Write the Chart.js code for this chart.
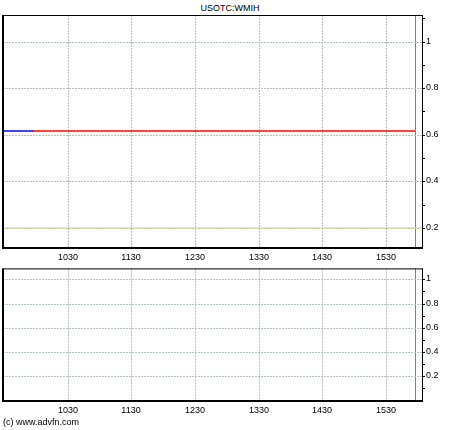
<!DOCTYPE html>
<html>
<head>
<meta charset="utf-8">
<script src="https://cdn.jsdelivr.net/npm/chart.js@4"></script>
<style>
body { margin: 0; background: #fff; width: 460px; height: 430px; position: relative; overflow: hidden; font-family: "Liberation Sans", Arial, sans-serif; }
canvas { position: absolute; left: 0; }
#priceChart { top: 0; }
#volumeChart { top: 262px; }
.txt { position: absolute; font-size: 9px; line-height: 10px; color: #000; }
#title { top: 3px; left: 0; width: 460px; text-align: center; }
#copy { top: 417px; left: 3px; }
</style>
</head>
<body>
<div id="title" class="txt">USOTC:WMIH</div>
<canvas id="priceChart" width="460" height="262"></canvas>
<canvas id="volumeChart" width="460" height="168"></canvas>
<div id="copy" class="txt">(c) www.advfn.com</div>
<script>
const timeTicks = ["1030", "1130", "1230", "1330", "1430", "1530"];
const sessionStart = "0929";
const sessionEnd = "1604";
const closeMark = "1557";

// previous close (blue), today's trades (red), reference level (yellow)
const prevTimes = ["0929", "0958"];
const prevPrices = [0.616, 0.616];
const priceTimes = ["0958", "1557"];
const prices = [0.616, 0.616];
const refTimes = ["0929", "1604"];
const refPrices = [0.2, 0.2];

const volumeTimes = [];
const volumes = [];

const priceTicks = [0.2, 0.4, 0.6, 0.8, 1];
const priceMinor = [0.3, 0.5, 0.7, 0.9, 1.1];
const volumeTicks = [0.2, 0.4, 0.6, 0.8, 1];
const volumeMinor = [0.1, 0.3, 0.5, 0.7, 0.9];

const fontFamily = '"Liberation Sans", Arial, sans-serif';

function toMin(t) {
    return parseInt(t.slice(0, 2), 10) * 60 + parseInt(t.slice(2), 10);
}

function pts(times, vals) {
    return times.map((t, i) => ({ x: toMin(t), y: vals[i] }));
}

// black box round the plot area
const frame = {
    id: "frame",
    afterDraw(chart) {
        const { ctx, chartArea: a } = chart;
        ctx.save();
        ctx.strokeStyle = "#000";
        ctx.lineWidth = 1;
        ctx.beginPath();
        ctx.moveTo(a.left, a.top + 0.5);
        ctx.lineTo(a.right + 1, a.top + 0.5);
        ctx.moveTo(a.right + 0.5, a.top);
        ctx.lineTo(a.right + 0.5, a.bottom);
        ctx.stroke();
        ctx.lineWidth = 2;
        ctx.beginPath();
        ctx.moveTo(a.left, a.top);
        ctx.lineTo(a.left, a.bottom + 1);
        ctx.moveTo(a.left, a.bottom);
        ctx.lineTo(a.right + 1, a.bottom);
        ctx.stroke();
        ctx.restore();
    }
};

function xScale() {
    const close = toMin(closeMark);
    return {
        type: "linear",
        min: toMin(sessionStart),
        max: toMin(sessionEnd),
        alignToPixels: true,
        afterBuildTicks: s => {
            s.ticks = timeTicks.map(t => ({ value: toMin(t) })).concat([{ value: close }]);
        },
        afterFit: s => { s.height = 14; },
        ticks: {
            autoSkip: false,
            maxRotation: 0,
            padding: 4,
            color: "#000",
            font: { family: fontFamily, size: 9 },
            callback: (v, i) => i < timeTicks.length ? timeTicks[i] : ""
        },
        border: {
            display: false,
            dash: c => (c.tick && c.tick.value === close) ? [] : [2, 1]
        },
        grid: {
            drawTicks: false,
            lineWidth: 1,
            color: c => (c.tick && c.tick.value === close) ? "#808080" : "#bcbcbc"
        }
    };
}

function yScale(min, max, major, minor, gridColor) {
    return {
        position: "right",
        min: min,
        max: max,
        alignToPixels: true,
        afterBuildTicks: s => {
            s.ticks = major.concat(minor).map(v => ({ value: v }));
        },
        afterFit: s => { s.width = 38; },
        ticks: {
            autoSkip: false,
            padding: 1,
            color: "#000",
            font: { family: fontFamily, size: 9 },
            callback: v => major.includes(v) ? String(v) : ""
        },
        border: { display: false, dash: [2, 1] },
        grid: {
            tickLength: 3,
            tickColor: "#000",
            tickBorderDash: [],
            lineWidth: 1,
            color: c => (c.tick && major.includes(c.tick.value)) ? gridColor : "rgba(0,0,0,0)"
        }
    };
}

const baseOptions = {
    responsive: false,
    animation: false,
    events: [],
    elements: { point: { radius: 0 }, line: { tension: 0 } },
    plugins: { legend: { display: false }, tooltip: { enabled: false } }
};

new Chart(document.getElementById("priceChart"), {
    type: "line",
    data: {
        datasets: [
            { data: pts(refTimes, refPrices), borderColor: "#d4d48c", borderWidth: 1 },
            { data: pts(prevTimes, prevPrices), borderColor: "#0000ff", borderWidth: 1.5 },
            { data: pts(priceTimes, prices), borderColor: "#ff0000", borderWidth: 1.5 }
        ]
    },
    options: {
        ...baseOptions,
        layout: { padding: { left: 3, top: 15, right: 0, bottom: 0 } },
        scales: {
            x: xScale(),
            y: yScale(0.114, 1.114, priceTicks, priceMinor, "#b4c0c0")
        }
    },
    plugins: [frame]
});

new Chart(document.getElementById("volumeChart"), {
    type: "line",
    data: {
        datasets: [
            { data: pts(volumeTimes, volumes), borderColor: "#0000ff", borderWidth: 1 }
        ]
    },
    options: {
        ...baseOptions,
        layout: { padding: { left: 3, top: 1, right: 0, bottom: 15 } },
        scales: {
            x: xScale(),
            y: yScale(-0.005, 1.09, volumeTicks, volumeMinor, "#b0c4c4")
        }
    },
    plugins: [frame]
});
</script>
</body>
</html>
